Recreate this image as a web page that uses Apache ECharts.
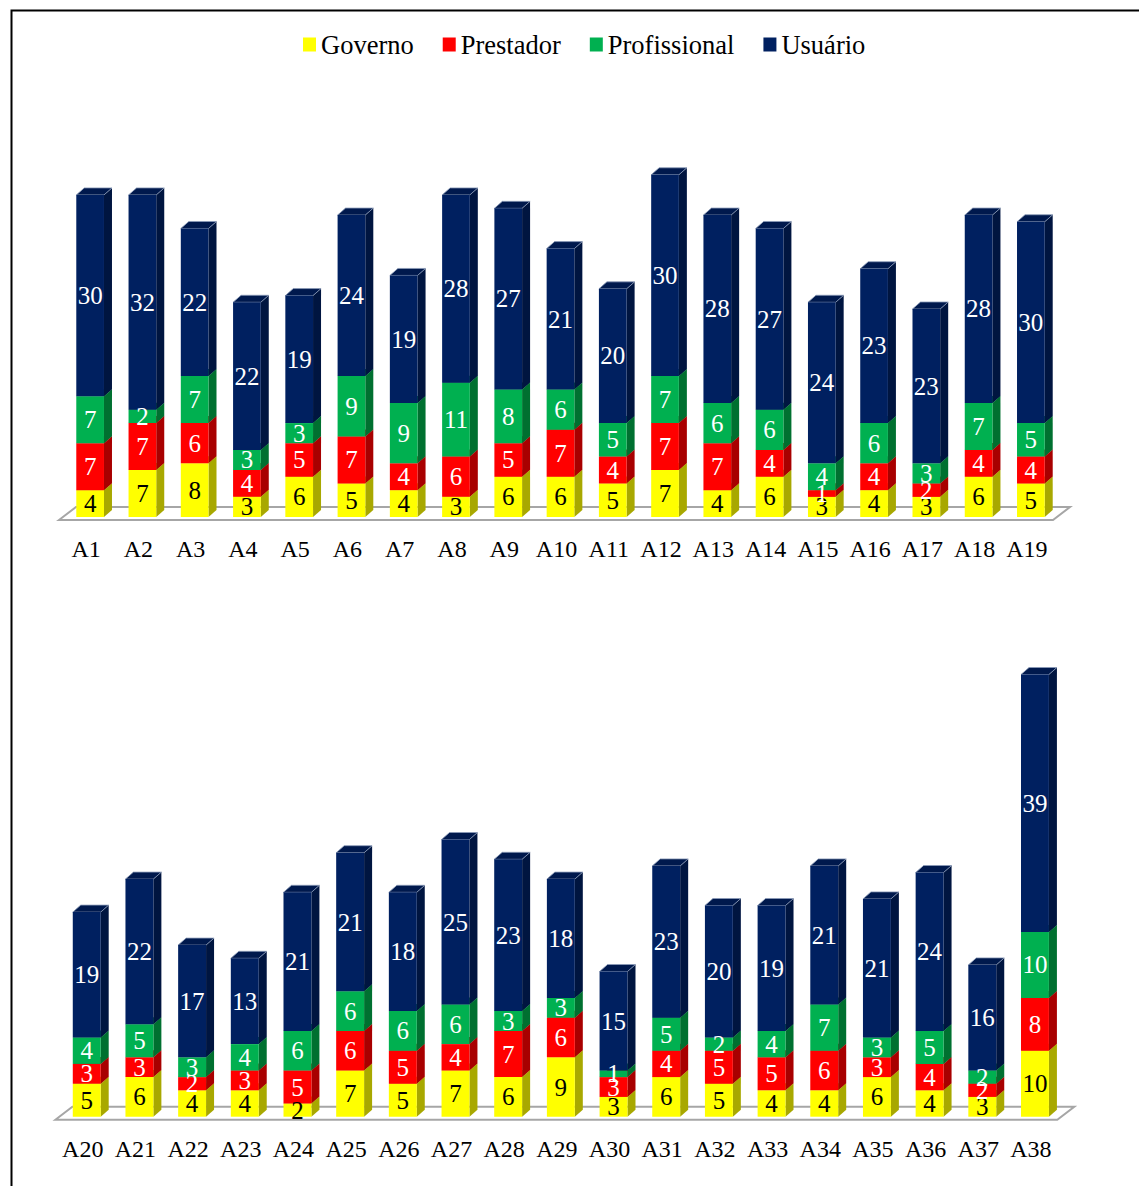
<!DOCTYPE html>
<html><head><meta charset="utf-8">
<script src="https://cdn.jsdelivr.net/npm/echarts@6/dist/echarts.min.js"></script>
<style>html,body{margin:0;padding:0;background:#fff}#c{width:1139px;height:1186px}</style>
</head><body><div id="c"></div>
<script>
const seriesNames = ['Governo', 'Prestador', 'Profissional', 'Usuário'];

const categoriesTop = ['A1','A2','A3','A4','A5','A6','A7','A8','A9','A10','A11','A12','A13','A14','A15','A16','A17','A18','A19'];
const governoTop      = [4,7,8,3,6,5,4,3,6,6,5,7,4,6,3,4,3,6,5];
const prestadorTop    = [7,7,6,4,5,7,4,6,5,7,4,7,7,4,1,4,2,4,4];
const profissionalTop = [7,2,7,3,3,9,9,11,8,6,5,7,6,6,4,6,3,7,5];
const usuarioTop      = [30,32,22,22,19,24,19,28,27,21,20,30,28,27,24,23,23,28,30];

const categoriesBottom = ['A20','A21','A22','A23','A24','A25','A26','A27','A28','A29','A30','A31','A32','A33','A34','A35','A36','A37','A38'];
const governoBottom      = [5,6,4,4,2,7,5,7,6,9,3,6,5,4,4,6,4,3,10];
const prestadorBottom    = [3,3,2,3,5,6,5,4,7,6,3,4,5,5,6,3,4,2,8];
const profissionalBottom = [4,5,3,4,6,6,6,6,3,3,1,5,2,4,7,3,5,2,10];
const usuarioBottom      = [19,22,17,13,21,21,18,25,23,18,15,23,20,19,21,21,24,16,39];

const FACE = ['#FFFF00', '#FF0000', '#00B050', '#002060'];
const SIDE = ['#A8A800', '#A80000', '#007030', '#001540'];
const TOP  = ['#C8C800', '#C00000', '#008a3c', '#00194d'];
const TXT  = ['#000000', '#FFFFFF', '#FFFFFF', '#FFFFFF'];
const DX = 8, DY = 7;
const FONT = 'Liberation Serif';

function renderSeg(k) {
  return function (params, api) {
    const i = api.value(0), s = api.value(1), e = api.value(2), v = api.value(3);
    const pb = api.coord([i, s]), pt = api.coord([i, e]);
    const band = api.size([1, 0])[0];
    const w = band * 0.53;
    const x0 = pb[0] - w / 2, x1 = pb[0] + w / 2, yb = pb[1], yt = pt[1];
    const children = [
      {type: 'polygon', shape: {points: [[x1, yb], [x1 + DX, yb - DY], [x1 + DX, yt - DY], [x1, yt]]}, style: {fill: SIDE[k]}},
      {type: 'polygon', shape: {points: [[x0, yt], [x0 + DX, yt - DY], [x1 + DX, yt - DY], [x1, yt]]},
        style: {fill: TOP[k], stroke: k === 3 ? '#8a9ab8' : null, lineWidth: k === 3 ? 0.8 : 0}},
      {type: 'rect', shape: {x: x0, y: yt, width: w, height: yb - yt}, style: {fill: FACE[k]}},
      {type: 'text', z2: 100, style: {text: String(v), x: pb[0], y: (yb + yt) / 2, align: 'center', verticalAlign: 'middle',
        fill: TXT[k], fontFamily: FONT, fontSize: 25}}
    ];
    return {type: 'group', children: children};
  };
}

function renderFloor(n) {
  return function (params, api) {
    const band = api.size([1, 0])[0];
    const l = api.coord([0, 0]);
    const r = api.coord([n - 1, 0]);
    const left = l[0] - band / 2, right = r[0] + band / 2, y0 = l[1];
    return {type: 'polygon', z2: -10, shape: {points: [[left - 5, y0 + 3], [left + 12, y0 - 10], [right + 13, y0 - 10], [right - 4, y0 + 3]]},
      style: {fill: '#ffffff', stroke: '#a6a6a6', lineWidth: 2}};
  };
}

function buildPanel(gridIndex, cols) {
  const out = [];
  const n = cols[0].length;
  out.push({type: 'custom', name: 'floor', xAxisIndex: gridIndex, yAxisIndex: gridIndex, silent: true,
    renderItem: renderFloor(n), data: [[0, 0]], encode: {x: 0, y: 1}, z: 1});
  const base = new Array(n).fill(0);
  cols.forEach((vals, k) => {
    const data = vals.map((v, i) => { const d = [i, base[i], base[i] + v, v]; base[i] += v; return d; });
    out.push({type: 'custom', name: seriesNames[k], xAxisIndex: gridIndex, yAxisIndex: gridIndex,
      itemStyle: {color: FACE[k]}, renderItem: renderSeg(k), data: data, encode: {x: 0, y: [1, 2]}, z: 2});
  });
  return out;
}

const xLabel = {fontFamily: FONT, fontSize: 24, color: '#000', margin: 20, padding: [0, 8, 0, 0], interval: 0};

const option = {
  animation: false,
  legend: {data: seriesNames, top: 26, left: 298, itemWidth: 13, itemHeight: 14, itemGap: 29, icon: 'rect',
    textStyle: {fontFamily: FONT, fontSize: 26.5, color: '#000'}},
  graphic: [{type: 'rect', left: 9, top: 8, shape: {width: 1300, height: 1300}, style: {fill: 'none', stroke: '#000', lineWidth: 2}, silent: true}],
  grid: [
    {left: 64, right: 82, top: 114.4, bottom: 669},
    {left: 60.4, right: 77.7, top: 654.7, bottom: 69.3}
  ],
  xAxis: [
    {type: 'category', gridIndex: 0, data: categoriesTop, axisLine: {show: false}, axisTick: {show: false}, axisLabel: xLabel},
    {type: 'category', gridIndex: 1, data: categoriesBottom, axisLine: {show: false}, axisTick: {show: false}, axisLabel: xLabel}
  ],
  yAxis: [
    {type: 'value', gridIndex: 0, min: 0, max: 60, show: false},
    {type: 'value', gridIndex: 1, min: 0, max: 70, show: false}
  ],
  series: [].concat(
    buildPanel(0, [governoTop, prestadorTop, profissionalTop, usuarioTop]),
    buildPanel(1, [governoBottom, prestadorBottom, profissionalBottom, usuarioBottom])
  )
};

const chart = echarts.init(document.getElementById('c'), null, {renderer: 'svg'});
chart.setOption(option);
</script>
</body></html>
